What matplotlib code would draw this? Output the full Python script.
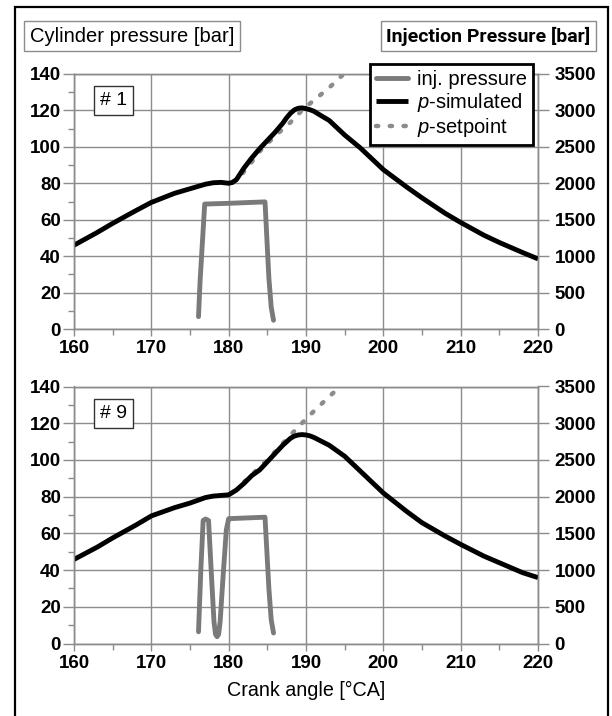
import matplotlib
matplotlib.use('Agg')
import matplotlib.pyplot as plt
from matplotlib.patches import Rectangle
from matplotlib.ticker import MultipleLocator

plt.rcParams['font.family'] = ['Liberation Sans', 'DejaVu Sans']
plt.rcParams['mathtext.fontset'] = 'custom'
plt.rcParams['mathtext.rm'] = 'Liberation Sans'
plt.rcParams['mathtext.it'] = 'Liberation Sans:italic'

# ---- data: cycle #1 ----
sim1_ca = [160, 163, 165, 168, 170, 173, 175, 177, 178, 179, 180, 180.5, 181, 182, 183, 184,
           185, 186, 187, 187.5, 188, 188.5, 189, 189.5, 190, 190.5, 191, 192, 193, 195, 197, 200,
           203, 205, 208, 210, 213, 215, 218, 220]
sim1_p = [46, 53, 58, 65, 69.5, 74.5, 77, 79.5, 80.3, 80.5, 80, 80.5, 82, 88.5, 94, 99,
          103.5, 108, 113, 116, 118.5, 120.3, 121.2, 121.4, 121.0, 120.4, 119.6, 117, 114.5, 106.5, 99.5, 87.5,
          78, 72, 63.5, 58.5, 51.5, 47.5, 42, 38.5]
set1_ca = [180.5, 181.5, 182.5, 184, 186, 188, 189, 190, 191, 192, 193, 194, 195]
set1_p = [80.5, 84, 89, 97.5, 106, 113.5, 118, 122, 125.5, 129, 132.5, 136.5, 140.5]
inj1_ca = [176.1, 176.3, 176.9, 180, 184.7, 185.2, 185.5, 185.8]
inj1_p = [170, 650, 1715, 1725, 1745, 700, 300, 120]

# ---- data: cycle #9 ----
sim9_ca = [160, 163, 165, 168, 170, 173, 175, 177, 178, 180, 181, 182, 183, 184, 185, 186,
           187, 188, 188.5, 189, 189.5, 190, 190.5, 191, 193, 195, 197, 200, 203, 205, 208, 210,
           213, 215, 218, 220]
sim9_p = [45.8, 52.5, 57.5, 64.5, 69.5, 74, 76.5, 79.5, 80.3, 81, 83.6, 87.3, 91.5, 94.5, 99, 103.5,
          108, 111.8, 113, 113.6, 113.8, 113.6, 113.1, 112.3, 108, 102, 94, 82, 72, 65.8, 58.5, 54,
          47.6, 44, 38.6, 35.9]
set9_ca = [182, 183, 185, 187, 189, 191, 193, 194.7]
set9_p = [88, 92, 100, 109, 118, 126.5, 134.5, 141]
inj9_ca = [176.1, 176.4, 176.7, 177.0, 177.4, 177.8, 178.1, 178.3, 178.5, 178.7, 178.9, 179.3,
           179.7, 180.0, 184.7, 185.2, 185.5, 185.8]
inj9_p = [160, 1000, 1675, 1695, 1675, 875, 300, 125, 93, 125, 300, 950,
          1550, 1700, 1720, 750, 325, 143]

panels = [('# 1', sim1_ca, sim1_p, set1_ca, set1_p, inj1_ca, inj1_p),
          ('# 9', sim9_ca, sim9_p, set9_ca, set9_p, inj9_ca, inj9_p)]

W, H = 612, 716
fig = plt.figure(figsize=(W / 100, H / 100), dpi=100)

grid_c = '#8c8c8c'
inj_c = '#7a7a7a'
set_c = '#8c8c8c'

ax_rects = [(74, 74, 538, 329), (74, 386.5, 538, 643.5)]

for (tag, sca, sp, tca, tp, ica, ip), (x0, y0, x1, y1) in zip(panels, ax_rects):
    ax = fig.add_axes([x0 / W, 1 - y1 / H, (x1 - x0) / W, (y1 - y0) / H])
    ax2 = ax.twinx()

    l_sim, = ax.plot(sca, sp, color='black', lw=3.5, solid_capstyle='butt', zorder=3)
    l_set, = ax.plot(tca, tp, color=set_c, lw=3.2, linestyle=(0, (0.5, 2.6)),
                     dash_capstyle='round', zorder=2)
    l_inj, = ax2.plot(ica, ip, color=inj_c, lw=3.5, solid_joinstyle='round', solid_capstyle='round')

    ax.set_xlim(160, 220)
    ax.set_ylim(0, 140)
    ax2.set_ylim(0, 3500)
    ax.xaxis.set_major_locator(MultipleLocator(10))
    ax.xaxis.set_minor_locator(MultipleLocator(5))
    ax.yaxis.set_major_locator(MultipleLocator(20))
    ax.yaxis.set_minor_locator(MultipleLocator(10))
    ax2.yaxis.set_major_locator(MultipleLocator(500))

    ax.grid(True, which='major', color=grid_c, lw=1.0)
    ax.set_axisbelow(True)
    for a in (ax, ax2):
        for s in a.spines.values():
            s.set_color(grid_c)
            s.set_linewidth(1.0)

    ax.tick_params(axis='y', which='major', length=8, width=1, color=grid_c, pad=1.5, labelsize=13.5)
    ax.tick_params(axis='y', which='minor', length=4.5, width=1, color=grid_c)
    ax.tick_params(axis='x', which='major', length=5, width=1, color=grid_c, pad=3, labelsize=13.5)
    ax.tick_params(axis='x', which='minor', length=4, width=1, color=grid_c)
    ax2.tick_params(axis='y', which='major', length=8, width=1, color=grid_c, pad=4, labelsize=13.5)
    for lab in ax.get_xticklabels() + ax.get_yticklabels() + ax2.get_yticklabels():
        lab.set_fontweight('bold')

    ax.text(0.085, 0.895, tag, transform=ax.transAxes, ha='center', va='center', fontsize=14,
            bbox=dict(boxstyle='square,pad=0.3', fc='white', ec='#333333', lw=1))

    if tag == '# 1':
        leg = ax2.legend([l_inj, l_sim, l_set], ['inj. pressure', r'$p$-simulated', r'$p$-setpoint'],
                         loc='upper right', bbox_to_anchor=(0.989, 1.039), borderaxespad=0,
                         fontsize=14.5, frameon=True, fancybox=False, handlelength=1.6,
                         handletextpad=0.45, borderpad=0.3, labelspacing=0.1)
        leg.get_frame().set_edgecolor('black')
        leg.get_frame().set_linewidth(2)
        leg.get_frame().set_alpha(1)

fig.text(132 / W, 1 - 36 / H, 'Cylinder pressure [bar]', ha='center', va='center', fontsize=14.5,
         bbox=dict(boxstyle='square,pad=0.28', fc='white', ec=grid_c, lw=1))
fig.text(488.5 / W, 1 - 36 / H, 'Injection Pressure [bar]', ha='center', va='center',
         fontsize=14, fontweight='bold', family=['Roboto', 'Liberation Sans'],
         bbox=dict(boxstyle='square,pad=0.3', fc='white', ec=grid_c, lw=1))
fig.text(306 / W, 1 - 690 / H, 'Crank angle [°CA]', ha='center', va='center', fontsize=14.2)

fig.add_artist(Rectangle((15 / W, -0.02), 593 / W, 1.02 - 7 / H, transform=fig.transFigure,
                         fill=False, ec='black', lw=1.6))

fig.savefig('out.png', dpi=100)
